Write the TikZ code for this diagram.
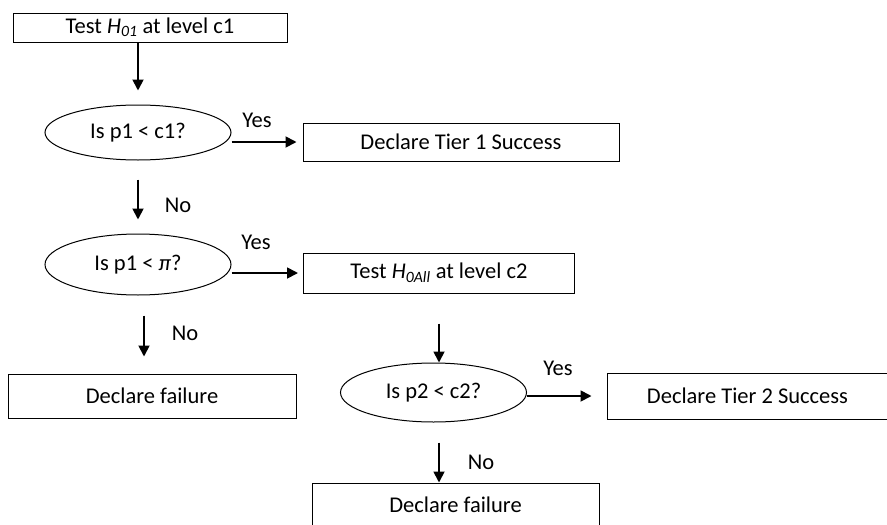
\documentclass[tikz,border=0pt]{standalone}
\usepackage{fontspec}
\setmainfont{Carlito}
\usetikzlibrary{arrows.meta,shapes.geometric}

\begin{document}
\begin{tikzpicture}[
    x=1pt, y=-1pt,
    box/.style={draw, line width=1pt, inner sep=0pt, align=center,
        font=\fontsize{22.5}{26}\selectfont},
    decision/.style={draw, ellipse, line width=1pt, inner sep=0pt,
        minimum width=186pt, minimum height=58pt,
        font=\fontsize{22.5}{26}\selectfont},
    answer/.style={inner sep=0pt, font=\fontsize{22.5}{26}\selectfont},
    arrow/.style={-{Triangle[length=11pt, width=11pt]}, line width=1.8pt}
]
    \useasboundingbox (0,0) rectangle (887,525);

    \node[box, minimum width=274pt, minimum height=29pt] (test1) at (150,27.5)
        {Test \textit{H\textsubscript{01}} at level c1};
    \node[decision, minimum height=55pt] (p1c1) at (138,132.5) {Is p1 < c1?};
    \node[box, minimum width=316pt, minimum height=38pt] (tier1) at (461,142)
        {Declare Tier 1 Success};
    \node[decision, minimum height=61pt] (p1pi) at (138,264.5) {Is p1 < \textit{π}?};
    \node[box, minimum width=271pt, minimum height=40pt] (test2) at (439,273)
        {Test \textit{H\textsubscript{0All}} at level c2};
    \node[box, minimum width=288pt, minimum height=44pt] (fail1) at (152,396)
        {Declare failure};
    \node[decision, minimum height=59pt] (p2c2) at (433.5,392.5) {Is p2 < c2?};
    \node[box, minimum width=281pt, minimum height=46pt] (tier2) at (747.5,396)
        {Declare Tier 2 Success};
    \node[box, minimum width=287pt, minimum height=43pt] (fail2) at (455.5,504.5)
        {Declare failure};

    \draw[arrow, shorten >=14pt] ([xshift=-12pt]test1.south) -- ([xshift=-12pt]test1.south |- p1c1.north);
    \draw[arrow, shorten >=6pt] (p1c1.east |- tier1.west) -- (tier1.west);
    \draw[arrow, shorten <=19pt, shorten >=14pt] (p1c1.south) -- (p1pi.north);
    \draw[arrow, shorten >=5pt] (p1pi.east |- test2.west) -- (test2.west);
    \draw[arrow, shorten <=20pt, shorten >=17pt] ([xshift=6pt]p1pi.south) -- ([xshift=6pt]p1pi.south |- fail1.north);
    \draw[arrow, shorten <=30pt] (test2.south) -- (test2.south |- p2c2.north);
    \draw[arrow, shorten >=15pt] (p2c2.east |- tier2.west) -- (tier2.west);
    \draw[arrow, shorten <=20pt] ([xshift=5.5pt]p2c2.south) -- ([xshift=5.5pt]p2c2.south |- fail2.north);

    \node[answer] (yes1) at (257,120) {Yes};
    \node[answer] (no1) at (178,205) {No};
    \node[answer] (yes2) at (256,242) {Yes};
    \node[answer] (no2) at (185,333) {No};
    \node[answer] (yes3) at (558,368) {Yes};
    \node[answer] (no3) at (481,462) {No};
\end{tikzpicture}
\end{document}
